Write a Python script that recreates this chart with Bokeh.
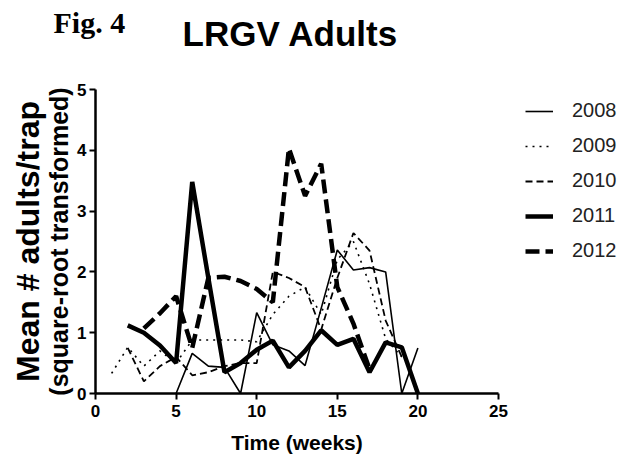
import math
from bokeh.plotting import figure
from bokeh.models import Range1d, FixedTicker, Legend, LegendItem, Label
from bokeh.embed import file_html
from bokeh.resources import INLINE

# ---- data ----
weeks_2008 = [5, 6, 7, 8, 9, 10, 11, 12, 13, 14, 15, 16, 17, 18, 19, 20]
vals_2008 = [0.0, 0.66, 0.45, 0.43, 0.0, 1.33, 0.8, 0.7, 0.46, 1.4, 2.36, 2.03, 2.07, 2.0, 0.0, 0.75]

weeks_2009 = [1, 2, 3, 4, 5, 6, 7, 8, 9, 10, 11, 12, 13, 14, 15, 16, 17, 18, 19]
vals_2009 = [0.33, 0.76, 0.45, 0.7, 0.5, 0.88, 0.88, 0.88, 0.88, 0.85, 1.3, 1.6, 1.75, 1.3, 2.2, 2.5, 1.8, 0.9, 0.6]

weeks_2010 = [2, 3, 4, 5, 6, 7, 8, 9, 10, 11, 12, 13, 14, 15, 16, 17, 18, 19]
vals_2010 = [0.75, 0.2, 0.45, 0.6, 0.3, 0.35, 0.45, 0.5, 0.5, 2.0, 1.9, 1.75, 1.05, 1.9, 2.64, 2.35, 1.2, 0.6]

weeks_2011 = [2, 3, 4, 5, 6, 7, 8, 9, 10, 11, 12, 13, 14, 15, 16, 17, 18, 19, 20]
vals_2011 = [1.12, 1.0, 0.79, 0.5, 3.48, 1.9, 0.35, 0.5, 0.72, 0.87, 0.43, 0.7, 1.04, 0.8, 0.9, 0.35, 0.84, 0.76, 0.0]

weeks_2012 = [3, 4, 5, 6, 7, 8, 9, 10, 11, 12, 13, 14, 15, 16, 17]
vals_2012 = [1.07, 1.32, 1.6, 0.75, 1.9, 1.92, 1.85, 1.72, 1.5, 4.03, 3.25, 3.78, 1.75, 1.15, 0.4]

x_ticks = [0, 5, 10, 15, 20, 25]
y_ticks = [0, 1, 2, 3, 4, 5]
series_labels = ["2008", "2009", "2010", "2011", "2012"]

# pixel scale of the reference: x 0->95px, 25->498px ; y 0->393px, 5->89px
W, H = 623, 466
xpx = (498 - 95) / 25.0
ypx = (393 - 89) / 5.0
x_start = -95 / xpx
x_end = (W - 95) / xpx
y_start = -(H - 393) / ypx
y_end = 393 / ypx

p = figure(width=W, height=H, output_backend="svg", toolbar_location=None,
           x_range=Range1d(x_start, x_end), y_range=Range1d(y_start, y_end),
           min_border=0, min_border_left=0, min_border_right=0,
           min_border_top=0, min_border_bottom=0)
p.background_fill_color = "white"
p.border_fill_color = "white"
p.outline_line_color = None
p.grid.visible = False

for ax in (p.xaxis[0], p.yaxis[0]):
    ax.fixed_location = 0
    ax.axis_line_width = 2.5
    ax.axis_line_color = "black"
    ax.major_tick_line_width = 2
    ax.major_tick_line_color = "black"
    ax.major_tick_out = 6
    ax.major_tick_in = 0
    ax.minor_tick_line_color = None
    ax.major_label_text_font = "Liberation Sans"
    ax.major_label_text_font_style = "bold"
    ax.major_label_text_font_size = "17px"
    ax.major_label_text_color = "black"

p.xaxis.bounds = (0, 25)
p.yaxis.bounds = (0, 5)
p.xaxis.ticker = FixedTicker(ticks=x_ticks)
p.yaxis.ticker = FixedTicker(ticks=y_ticks)
p.xaxis.major_label_standoff = 5
p.yaxis.major_label_standoff = 3

r08 = p.line(weeks_2008, vals_2008, line_color="black", line_width=1.6)
r09 = p.line(weeks_2009, vals_2009, line_color="black", line_width=1.6, line_dash="2 5")
r10 = p.line(weeks_2010, vals_2010, line_color="black", line_width=1.8, line_dash="7 4")
r11 = p.line(weeks_2011, vals_2011, line_color="black", line_width=4.5)
r12 = p.line(weeks_2012, vals_2012, line_color="black", line_width=4.5, line_dash="14 6")

legend = Legend(items=[LegendItem(label=lab, renderers=[r])
                       for lab, r in zip(series_labels, [r08, r09, r10, r11, r12])],
                location=(525, 204), margin=0, padding=0,
                glyph_width=28, glyph_height=20, label_height=20, spacing=12,
                label_standoff=19, label_text_font="Liberation Sans",
                label_text_font_size="20px", label_text_color="#222222",
                border_line_color=None, background_fill_alpha=0)
p.add_layout(legend)

def px2x(px):
    return (px - 95) / xpx

def px2y(py):
    return (393 - py) / ypx

# titles
p.add_layout(Label(x=px2x(290), y=px2y(33), text="LRGV Adults", text_align="center",
                   text_baseline="alphabetic", text_font="Liberation Sans",
                   text_font_style="bold", text_font_size="35px", text_color="black"))
p.add_layout(Label(x=px2x(53), y=px2y(22), text="Fig. 4", text_align="left",
                   text_baseline="alphabetic", text_font="Liberation Serif",
                   text_font_style="bold", text_font_size="30px", text_color="black"))

# axis titles
p.add_layout(Label(x=12.5, y=px2y(442), text="Time (weeks)", text_align="center",
                   text_baseline="middle", text_font="Liberation Sans",
                   text_font_style="bold", text_font_size="21px", text_color="black"))
p.add_layout(Label(x=px2x(27), y=2.5, text="Mean # adults/trap", angle=math.pi / 2,
                   text_align="center", text_baseline="middle", text_font="Liberation Sans",
                   text_font_style="bold", text_font_size="32px", text_color="black"))
p.add_layout(Label(x=px2x(58), y=2.5, text="(square-root transformed)", angle=math.pi / 2,
                   text_align="center", text_baseline="middle", text_font="Liberation Sans",
                   text_font_style="bold", text_font_size="25px", text_color="black"))

open("out.html", "w").write(file_html(p, INLINE))
